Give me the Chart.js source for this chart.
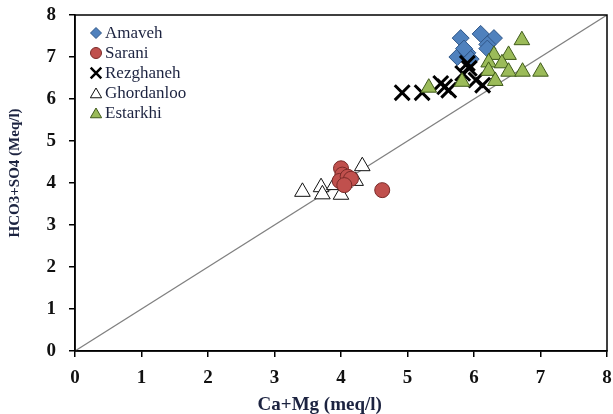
<!DOCTYPE html>
<html>
<head>
<meta charset="utf-8">
<script src="https://cdn.jsdelivr.net/npm/chart.js@4/dist/chart.umd.min.js"></script>
<style>
  html, body { margin: 0; padding: 0; background: #fff; }
</style>
</head>
<body>
<canvas id="chart" width="613" height="414"></canvas>
<script>
// [Ca+Mg, HCO3+SO4] in meq/l, one array per sampling area
const amaveh = [[5.8, 7.45], [6.1, 7.55], [6.3, 7.45], [6.2, 7.3], [5.75, 7.0], [5.9, 7.1], [5.85, 7.2], [6.2, 7.2], [5.95, 6.95]];
const sarani = [[4.0, 4.35], [4.02, 4.2], [3.98, 4.05], [4.1, 4.15], [4.15, 4.1], [4.05, 3.95], [4.62, 3.83]];
const rezghaneh = [[4.92, 6.15], [5.22, 6.15], [5.5, 6.37], [5.56, 6.29], [5.62, 6.21], [5.83, 6.61], [5.93, 6.73], [5.9, 6.85], [6.03, 6.45], [6.13, 6.33]];
const ghordanloo = [[3.42, 3.79], [3.7, 3.9], [3.72, 3.73], [3.9, 3.95], [4.0, 3.72], [4.05, 4.0], [4.22, 4.05], [4.32, 4.4]];
const estarkhi = [[6.72, 7.4], [6.3, 7.05], [6.52, 7.05], [6.22, 6.87], [6.42, 6.85], [6.22, 6.67], [6.52, 6.65], [6.73, 6.65], [7.0, 6.65], [6.32, 6.43], [5.82, 6.41], [5.32, 6.27]];
const oneToOne = [[0, 0], [8, 8]];

const seriesNames = ['Amaveh', 'Sarani', 'Rezghaneh', 'Ghordanloo', 'Estarkhi'];
const axisMin = 0;
const axisMax = 8;

const serif = '"Liberation Serif", "Times New Roman", serif';
const inkColor = '#1c2340';

const toPoints = arr => arr.map(p => ({ x: p[0], y: p[1] }));

const styles = [
  { pointStyle: 'rectRot', backgroundColor: '#4f81bd', borderColor: '#2f5688', borderWidth: 1, pointRadius: 8.5, legendRadius: 5.5 },
  { pointStyle: 'circle', backgroundColor: '#c0504d', borderColor: '#7a2a28', borderWidth: 1, pointRadius: 7.5, legendRadius: 5.5 },
  { pointStyle: 'crossRot', backgroundColor: '#000', borderColor: '#000', borderWidth: 3, pointRadius: 10.5, legendRadius: 7.5 },
  { pointStyle: 'triangle', backgroundColor: '#fff', borderColor: '#111', borderWidth: 1, pointRadius: 9, legendRadius: 6.5 },
  { pointStyle: 'triangle', backgroundColor: '#9bbb59', borderColor: '#3f5a1a', borderWidth: 1, pointRadius: 9, legendRadius: 6.5 }
];

const seriesData = [amaveh, sarani, rezghaneh, ghordanloo, estarkhi];
// later series sit on top, sarani above the hollow triangles
const drawOrder = [6, 2, 4, 3, 1];

const datasets = seriesData.map((arr, i) => ({
  label: seriesNames[i],
  data: toPoints(arr),
  pointStyle: styles[i].pointStyle,
  backgroundColor: styles[i].backgroundColor,
  borderColor: styles[i].borderColor,
  borderWidth: styles[i].borderWidth,
  pointRadius: styles[i].pointRadius,
  pointHoverRadius: styles[i].pointRadius,
  order: drawOrder[i]
}));

datasets.push({
  type: 'line',
  label: '1:1',
  data: toPoints(oneToOne),
  borderColor: '#808080',
  borderWidth: 1.2,
  pointRadius: 0,
  fill: false,
  order: 10
});

// legend in the upper left corner of the plot
const legendBox = {
  id: 'legendBox',
  afterDraw(chart) {
    const ctx = chart.ctx;
    const area = chart.chartArea;
    ctx.save();
    ctx.font = '17px ' + serif;
    ctx.textBaseline = 'middle';
    ctx.textAlign = 'left';
    seriesNames.forEach((name, i) => {
      const st = styles[i];
      const x = area.left + 21;
      const y = area.top + 18 + i * 20;
      ctx.fillStyle = st.backgroundColor;
      ctx.strokeStyle = st.borderColor;
      ctx.lineWidth = st.pointStyle === 'crossRot' ? 2.5 : 1;
      const yy = st.pointStyle === 'triangle' ? y + 1.5 : y;
      Chart.helpers.drawPoint(ctx, {
        pointStyle: st.pointStyle,
        radius: st.legendRadius,
        rotation: 0,
        borderWidth: ctx.lineWidth
      }, x, yy);
      ctx.fillStyle = inkColor;
      ctx.fillText(name, x + 9, y + 1);
    });
    ctx.restore();
  }
};

// frame around the plot and the two axis titles
const frameAndTitles = {
  id: 'frameAndTitles',
  afterDraw(chart) {
    const ctx = chart.ctx;
    const a = chart.chartArea;
    ctx.save();
    ctx.strokeStyle = '#000';
    ctx.lineWidth = 1.5;
    ctx.strokeRect(a.left, a.top, a.right - a.left, a.bottom - a.top);

    ctx.fillStyle = inkColor;
    ctx.textAlign = 'center';
    ctx.textBaseline = 'middle';
    ctx.font = 'bold 19px ' + serif;
    ctx.fillText('Ca+Mg (meq/l)', a.left + (a.right - a.left) * 0.46, 405);

    ctx.translate(15, a.top + (a.bottom - a.top) * 0.47);
    ctx.rotate(-Math.PI / 2);
    ctx.font = 'bold 15px ' + serif;
    ctx.fillText('HCO3+SO4 (Meq/l)', 0, 0);
    ctx.restore();
  }
};

const tickFont = { family: serif, size: 19, weight: 'bold' };

const ctx = document.getElementById('chart').getContext('2d');
new Chart(ctx, {
  type: 'scatter',
  data: { datasets },
  plugins: [legendBox, frameAndTitles],
  options: {
    responsive: false,
    animation: false,
    devicePixelRatio: 1,
    layout: { autoPadding: false, padding: { top: 15, right: 6, left: 0, bottom: 0 } },
    plugins: {
      legend: { display: false },
      tooltip: { enabled: false }
    },
    scales: {
      x: {
        type: 'linear',
        min: axisMin,
        max: axisMax,
        afterFit: scale => {
          scale.height = 63;
          scale.paddingLeft = 0;
          scale.paddingRight = 0;
        },
        ticks: { stepSize: 1, color: '#111', font: tickFont, padding: 10 },
        grid: { drawOnChartArea: false, drawTicks: true, tickLength: 6, color: '#000', lineWidth: 1.5 },
        border: { display: true, color: '#000', width: 1.5 }
      },
      y: {
        type: 'linear',
        min: axisMin,
        max: axisMax,
        afterFit: scale => {
          scale.width = 75;
          scale.paddingTop = 0;
          scale.paddingBottom = 0;
        },
        ticks: { stepSize: 1, color: '#111', font: tickFont, padding: 13 },
        grid: { drawOnChartArea: false, drawTicks: true, tickLength: 6, color: '#000', lineWidth: 1.5 },
        border: { display: true, color: '#000', width: 1.5 }
      }
    }
  }
});
</script>
</body>
</html>
